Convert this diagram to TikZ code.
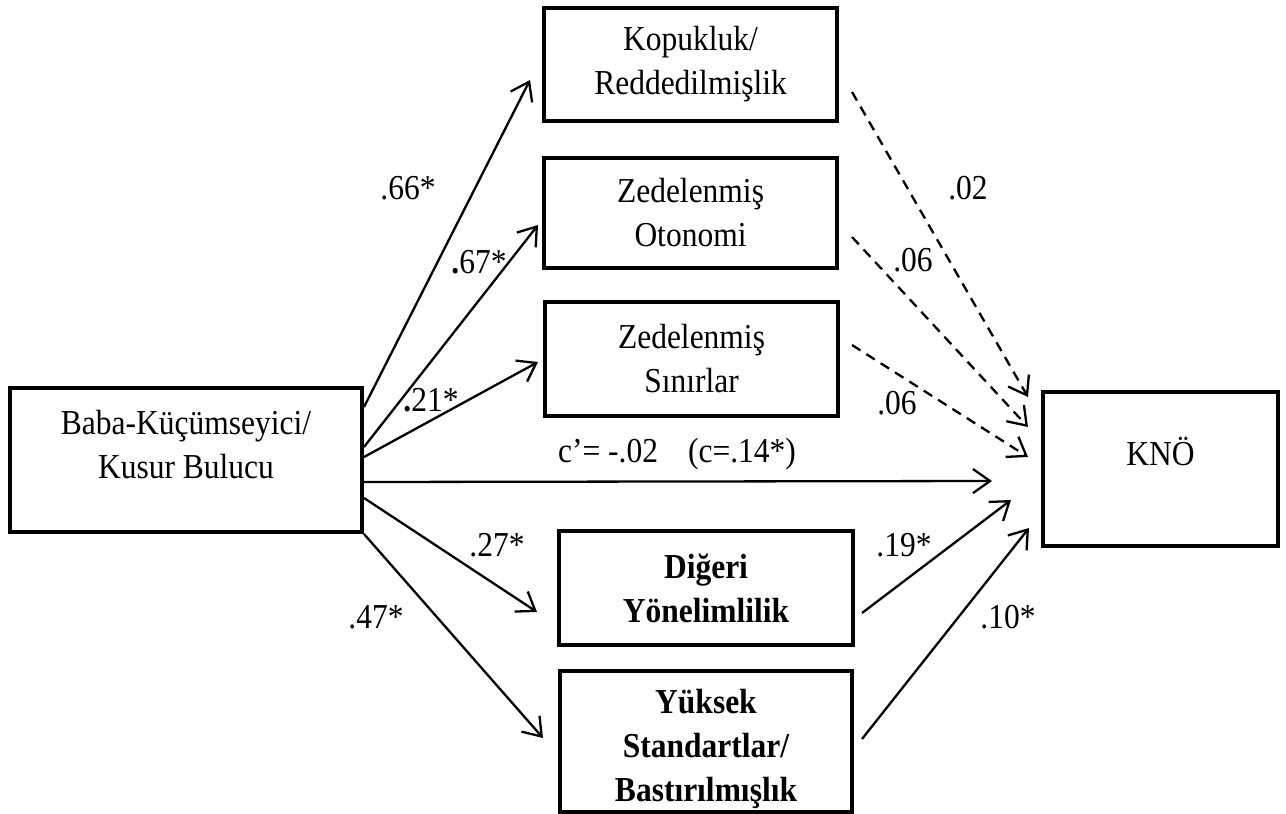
\documentclass[tikz,border=0pt]{standalone}
\usepackage{fontspec}
\setmainfont{Liberation Serif}[FakeStretch=0.9]
\usetikzlibrary{arrows.meta}
\tikzset{
	box/.style={draw,rectangle,align=center,line width=4pt,font=\fontsize{35}{44}\selectfont},
	bbox/.style={box,font=\fontsize{35}{44}\selectfont\bfseries},
	coef/.style={font=\fontsize{35}{44}\selectfont},
	sig/.style={line width=2.3pt,-{Straight Barb[length=17pt,width=24pt]}},
	nonsig/.style={sig,dash pattern=on 10pt off 7pt}
}
\begin{document}
\begin{tikzpicture}[x=1pt,y=-1pt]
			\useasboundingbox (0,0) rectangle (1286,814);
			\node[box,minimum width=352,minimum height=144] (baba) at (186,460) {Baba-Küçümseyici/\\Kusur Bulucu\\[-13pt]~};
			\node[box,minimum width=293,minimum height=113] (kop) at (690.5,64.5) {Kopukluk/\\Reddedilmişlik};
			\node[box,minimum width=293,minimum height=110] (oto) at (690.5,213) {Zedelenmiş\\Otonomi};
			\node[box,minimum width=293,minimum height=114] (sin) at (691.5,359) {Zedelenmiş\\Sınırlar};
			\node[bbox,minimum width=294,minimum height=114] (dig) at (706,588) {Diğeri\\Yönelimlilik};
			\node[bbox,minimum width=292,minimum height=139] (yuk) at (706,741.5) {~\\[-4pt]Yüksek\\Standartlar/\\Bastırılmışlık};
			\node[box,minimum width=235,minimum height=154] (kno) at (1160.5,469) {KNÖ\\[-9pt]~};
			
			\draw[sig] ([shift={(0,-53)}]baba.east) -- ([shift={(-12,15.5)}]kop.west);
			\draw[sig] ([shift={(0,-13)}]baba.east) -- ([shift={(-4,12)}]oto.west);
			\draw[sig] ([shift={(0,-3)}]baba.east) -- ([shift={(-5,3)}]sin.west);
			\draw[sig] ([shift={(0,22)}]baba.east) -- ([shift={(-49,12)}]kno.west);
			\draw[sig] ([shift={(0,38)}]baba.east) -- ([shift={(-20,24)}]dig.west);
			\draw[sig] (baba.south east) -- ([shift={(-15,-3.5)}]yuk.west);
			
			\draw[nonsig] ([shift={(13,27.5)}]kop.east) -- ([shift={(-13,-72)}]kno.west);
			\draw[nonsig] ([shift={(13,24)}]oto.east) -- ([shift={(-13,-42)}]kno.west);
			\draw[nonsig] ([shift={(12,-14)}]sin.east) -- ([shift={(-13,-12)}]kno.west);
			\draw[sig] ([shift={(7,25)}]dig.east) -- ([shift={(-30,31)}]kno.west);
			\draw[sig] ([shift={(8,-2.5)}]yuk.east) -- ([shift={(-12,59)}]kno.west);
			
			\node[coef] (a1) at (408,188) {.66*};
			\node[coef] (a2) at (479,262) {\textbf{.}67*};
			\node[coef] (a3) at (431,400) {\textbf{.}21*};
			\node[coef] (a4) at (497,545) {.27*};
			\node[coef] (a5) at (376,617) {.47*};
			\node[coef] (b1) at (968,188) {.02};
			\node[coef] (b2) at (913,260) {.06};
			\node[coef] (b3) at (897,403) {.06};
			\node[coef] (b4) at (904,545) {.19*};
			\node[coef] (b5) at (1008,617) {.10*};
			\node[coef] (cp) at (677,454) {c’= -.02\hspace{30pt}(c=.14*)};
		\end{tikzpicture}
\end{document}
